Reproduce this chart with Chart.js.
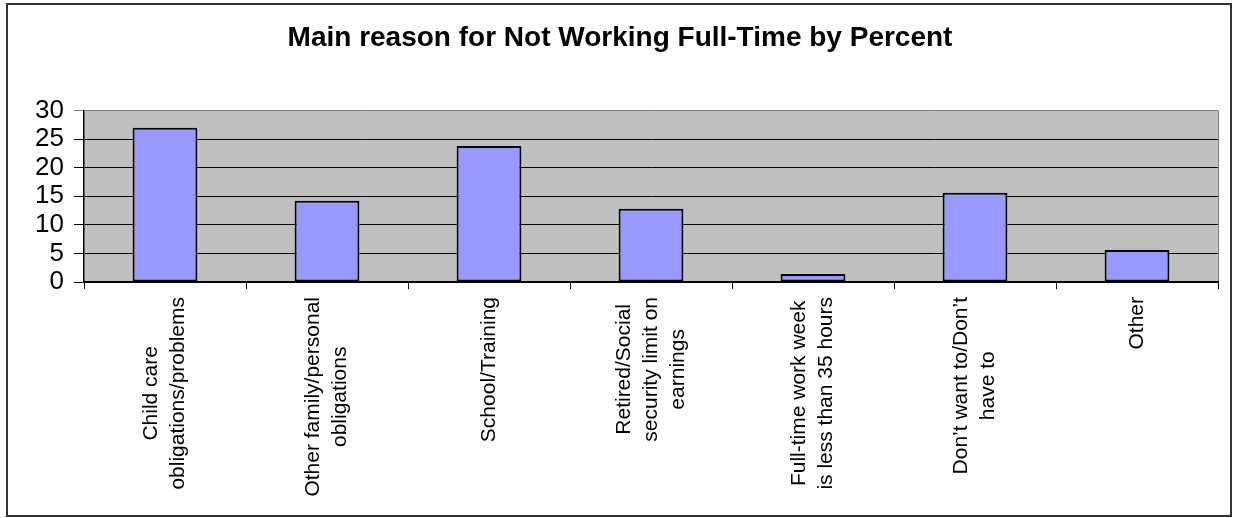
<!DOCTYPE html>
<html>
<head>
<meta charset="utf-8">
<script src="https://cdn.jsdelivr.net/npm/chart.js@4/dist/chart.umd.min.js"></script>
<style>
  html, body { margin: 0; padding: 0; background: #fff; }
  canvas { display: block; }
</style>
</head>
<body>
<canvas id="reasonChart" width="1235" height="518"></canvas>
<script>
// reasons, one array entry per line of the label
const reasons = [
  ['Child care', 'obligations/problems'],
  ['Other family/personal', 'obligations'],
  ['School/Training'],
  ['Retired/Social', 'security limit on', 'earnings'],
  ['Full-time work week', 'is less than 35 hours'],
  ['Don\u2019t want to/Don\u2019t', 'have to'],
  ['Other']
];
const percents = [27.0, 14.2, 23.8, 12.8, 1.4, 15.6, 5.6];
const yTicks = [0, 5, 10, 15, 20, 25, 30];

const FONT = "'Liberation Sans', Arial, sans-serif";

// grey plot background plus frame round the whole chart
const frame = {
  id: 'frame',
  beforeDraw(chart) {
    const { ctx, chartArea: a } = chart;
    ctx.save();
    ctx.fillStyle = '#c0c0c0';
    ctx.fillRect(a.left, a.top, a.right - a.left, a.bottom - a.top);
    ctx.strokeStyle = '#808080';
    ctx.lineWidth = 1;
    ctx.beginPath();
    ctx.moveTo(a.right + 0.5, a.top);
    ctx.lineTo(a.right + 0.5, a.bottom);
    ctx.stroke();
    ctx.restore();
  },
  afterDraw(chart) {
    const ctx = chart.ctx;
    ctx.save();
    ctx.strokeStyle = '#333';
    ctx.lineWidth = 2;
    ctx.strokeRect(7, 4, 1224, 512);
    ctx.restore();
  }
};

// vertical category labels, lines centred in their block
const sideLabels = {
  id: 'sideLabels',
  afterDraw(chart) {
    const { ctx } = chart;
    const x = chart.scales.x;
    const lineH = 27;
    ctx.save();
    ctx.font = '21px ' + FONT;
    ctx.fillStyle = '#000';
    ctx.textAlign = 'center';
    ctx.textBaseline = 'middle';
    reasons.forEach((lines, i) => {
      const w = Math.max(...lines.map(l => ctx.measureText(l).width));
      const px = x.getPixelForValue(i);
      const py = x.top + 15 + w / 2;
      ctx.save();
      ctx.translate(px, py);
      ctx.rotate(-Math.PI / 2);
      lines.forEach((l, j) => {
        ctx.fillText(l, 0, (j - (lines.length - 1) / 2) * lineH);
      });
      ctx.restore();
    });
    ctx.restore();
  }
};

new Chart(document.getElementById('reasonChart'), {
  type: 'bar',
  data: {
    labels: reasons,
    datasets: [{
      data: percents,
      backgroundColor: '#9999ff',
      borderColor: '#000',
      borderWidth: 2,
      borderSkipped: false,
      categoryPercentage: 1,
      barPercentage: 0.4
    }]
  },
  options: {
    responsive: false,
    animation: false,
    layout: { padding: { left: 22, right: 17, top: 0, bottom: 0 } },
    plugins: {
      legend: { display: false },
      tooltip: { enabled: false },
      title: {
        display: true,
        text: 'Main reason for Not Working Full-Time by Percent',
        color: '#000',
        font: { family: FONT, size: 28, weight: 'bold' },
        padding: { top: 21, bottom: 56 }
      }
    },
    scales: {
      x: {
        afterFit(s) { s.height = 236; },
        grid: {
          offset: true,
          drawOnChartArea: false,
          drawTicks: true,
          tickLength: 7,
          color: '#000'
        },
        border: { color: '#000', width: 1.5 },
        ticks: { display: false }
      },
      y: {
        min: 0,
        max: 30,
        afterFit(s) { s.width = 62; },
        afterBuildTicks(s) { s.ticks = yTicks.map(v => ({ value: v })); },
        grid: {
          color: c => (c.tick && c.tick.value === 30 ? '#808080' : '#000'),
          tickLength: 10
        },
        border: { color: '#000', width: 1.5 },
        ticks: {
          color: '#000',
          autoSkip: false,
          padding: 10,
          font: { family: FONT, size: 26 }
        }
      }
    }
  },
  plugins: [frame, sideLabels]
});
</script>
</body>
</html>
